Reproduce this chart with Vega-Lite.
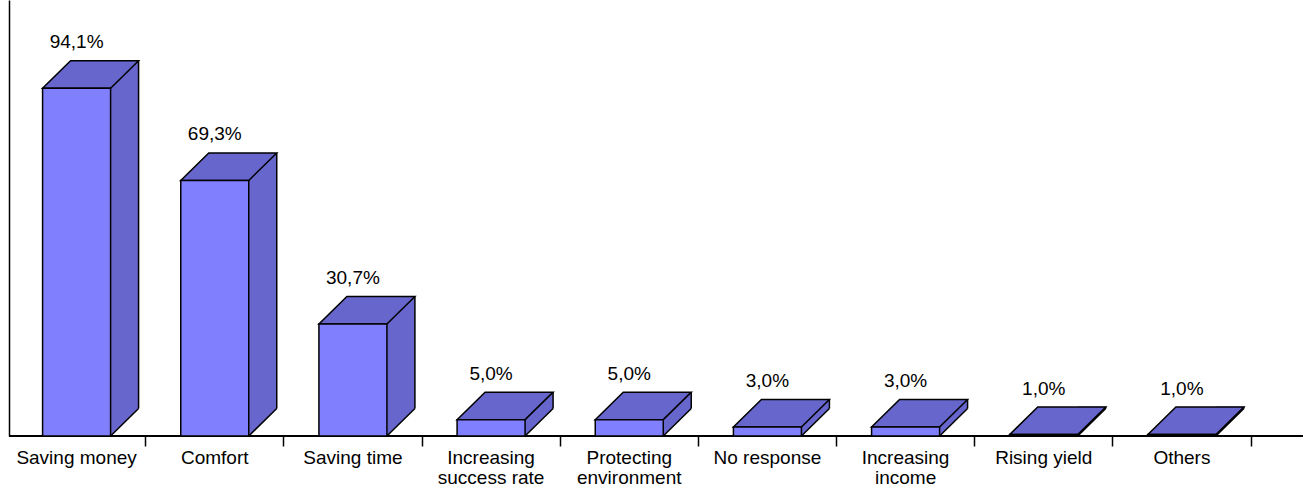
{
  "$schema": "https://vega.github.io/schema/vega-lite/v6.json",
  "width": 1294,
  "height": 436,
  "autosize": "none",
  "padding": {"left": 9, "top": 0, "right": 10, "bottom": 53},
  "background": "white",
  "config": {
    "view": {"stroke": null},
    "font": "Liberation Sans",
    "locale": {"number": {"decimal": ",", "thousands": ".", "grouping": [3], "currency": ["", " €"]}}
  },
  "data": {
    "values": [
      {"reason": "Saving money", "share": 0.941},
      {"reason": "Comfort", "share": 0.693},
      {"reason": "Saving time", "share": 0.307},
      {"reason": "Increasing success rate", "share": 0.05},
      {"reason": "Protecting environment", "share": 0.05},
      {"reason": "No response", "share": 0.03},
      {"reason": "Increasing income", "share": 0.03},
      {"reason": "Rising yield", "share": 0.01},
      {"reason": "Others", "share": 0.01}
    ]
  },
  "layer": [
    {
      "mark": {"type": "rule", "color": "black", "strokeWidth": 1.5},
      "encoding": {
        "y": {"datum": 0.006, "type": "quantitative", "scale": {"domain": [0.006, 1.178], "clamp": true, "zero": false, "nice": false},
              "axis": {"title": null, "domain": true, "domainColor": "black", "domainWidth": 1.5, "ticks": false, "labels": false, "grid": false}}
      }
    },
    {
      "encoding": {
        "x": {
          "field": "reason", "type": "nominal", "sort": null,
          "scale": {"range": [-1.5, 1242], "paddingInner": 0, "paddingOuter": 0},
          "axis": {
            "title": null, "domain": false, "grid": false,
            "ticks": true, "tickSize": 10, "tickWidth": 1.5, "tickColor": "black",
            "bandPosition": 1, "tickExtra": false,
            "labelAngle": 0, "labelFontSize": 19, "labelColor": "black", "labelFont": "Liberation Sans",
            "labelPadding": 2, "labelLineHeight": 20, "labelLimit": 300,
            "labelExpr": "datum.label == 'Increasing success rate' ? ['Increasing', 'success rate'] : datum.label == 'Protecting environment' ? ['Protecting', 'environment'] : datum.label == 'Increasing income' ? ['Increasing', 'income'] : datum.label"
          }
        },
        "y": {
          "field": "share", "type": "quantitative",
          "scale": {"domain": [0.006, 1.178], "clamp": true, "zero": false, "nice": false},
          "axis": {"title": null, "domain": true, "domainColor": "black", "domainWidth": 1.5, "ticks": false, "labels": false, "grid": false}
        }
      },
      "layer": [
        {
          "mark": {"type": "bar", "color": "#6666CC", "width": 28, "xOffset": 48, "yOffset": -27.5, "y2Offset": -27.5}
        },
        {
          "mark": {"type": "point", "shape": "M0,-29.5 L0,0 L28,-27.5 L28,-29.5 Z", "size": 4, "filled": true, "fill": "#6666CC", "strokeWidth": 0, "opacity": 1, "xOffset": 34},
          "encoding": {"y": {"datum": 0.006, "type": "quantitative"}}
        },
        {
          "mark": {"type": "point", "shape": "M-34,0 L34,0 L62,-27.5 L-6,-27.5 Z", "size": 4, "filled": true, "fill": "#6666CC", "stroke": "black", "strokeWidth": 1.5, "opacity": 1}
        },
        {
          "mark": {"type": "rule", "color": "black", "strokeWidth": 1.5, "xOffset": 62, "yOffset": -27.5, "y2Offset": -27.5},
          "encoding": {"y2": {"datum": 0.006}}
        },
        {
          "mark": {"type": "point", "shape": "M0,0 L28,-27.5", "size": 4, "filled": false, "stroke": "black", "strokeWidth": 1.5, "opacity": 1, "xOffset": 34},
          "encoding": {"y": {"datum": 0.006, "type": "quantitative"}}
        },
        {
          "mark": {"type": "bar", "color": "#8080FF", "width": 68, "stroke": "black", "strokeWidth": 1.5}
        },
        {
          "mark": {"type": "text", "fontSize": 19, "color": "black", "baseline": "alphabetic", "yOffset": -40, "font": "Liberation Sans"},
          "encoding": {"text": {"field": "share", "type": "quantitative", "format": ".1%"}}
        }
      ]
    }
  ]
}
